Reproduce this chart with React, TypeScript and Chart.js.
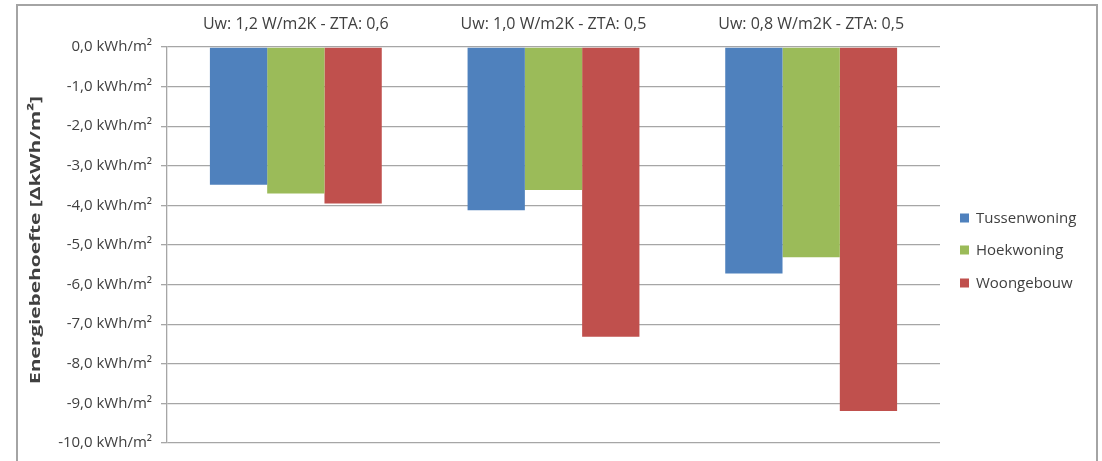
import React, { useEffect, useRef } from "react";
import { Chart, registerables } from "chart.js";

Chart.register(...registerables);

// Window variants along the top axis
const categories = [
  "Uw: 1,2 W/m2K - ZTA: 0,6",
  "Uw: 1,0 W/m2K - ZTA: 0,5",
  "Uw: 0,8 W/m2K - ZTA: 0,5",
];

// Change in energy demand per dwelling type (kWh/m²)
const tussenwoning = [-3.48, -4.12, -5.72];
const hoekwoning = [-3.7, -3.61, -5.31];
const woongebouw = [-3.95, -7.32, -9.19];

const seriesNames = ["Tussenwoning", "Hoekwoning", "Woongebouw"];
const seriesColors = ["#4f81bd", "#9bbb59", "#c0504d"];

const yMin = -10;
const yMax = 0;
const yStep = 1;
const yTitle = "Energiebehoefte [ΔkWh/m²]";

const FONT = "'Open Sans', 'Liberation Sans', sans-serif";
const TEXT = "#404040";
const GRID = "#a6a6a6";

// Legend drawn to the right of the plot area
const sideLegend = {
  id: "sideLegend",
  afterDraw(chart: Chart) {
    const ctx = chart.ctx;
    const x = chart.chartArea.right + 20;
    const ys = [218, 250, 283];
    ctx.save();
    ctx.font = `15px ${FONT}`;
    ctx.textBaseline = "middle";
    chart.data.datasets.forEach((ds: any, i: number) => {
      ctx.fillStyle = ds.backgroundColor as string;
      ctx.fillRect(x, ys[i] - 4.5, 9, 9);
      ctx.fillStyle = TEXT;
      ctx.fillText(ds.label as string, x + 16, ys[i] + 0.5);
    });
    ctx.restore();
  },
};

// Vertical axis title, stretched along its length
const axisTitle = {
  id: "axisTitle",
  afterDraw(chart: Chart) {
    const ctx = chart.ctx;
    const { top, bottom } = chart.chartArea;
    const cy = (top + bottom) / 2 - 5;
    ctx.save();
    ctx.font = `bold 15px ${FONT}`;
    const w = ctx.measureText(yTitle).width;
    const target = 288;
    ctx.translate(36, cy);
    ctx.rotate(-Math.PI / 2);
    ctx.scale(target / w, 1);
    ctx.fillStyle = TEXT;
    ctx.textAlign = "center";
    ctx.textBaseline = "middle";
    ctx.fillText(yTitle, 0, 0);
    ctx.restore();
  },
};

export default function App() {
  const canvasRef = useRef<HTMLCanvasElement | null>(null);

  useEffect(() => {
    document.body.style.margin = "0";
    document.body.style.background = "#ffffff";
    const canvas = canvasRef.current;
    if (!canvas) return;
    const series = [tussenwoning, hoekwoning, woongebouw];
    const chart = new Chart(canvas, {
      type: "bar",
      data: {
        labels: categories,
        datasets: series.map((values, i) => ({
          label: seriesNames[i],
          data: values,
          backgroundColor: seriesColors[i],
          borderWidth: 0,
          categoryPercentage: 0.667,
          barPercentage: 1,
        })),
      },
      options: {
        animation: false,
        responsive: false,
        maintainAspectRatio: false,
        devicePixelRatio: 1,
        layout: { padding: { left: 22, right: 162, top: 8, bottom: 18 } },
        plugins: {
          legend: { display: false },
          tooltip: { enabled: false },
        },
        scales: {
          x: {
            position: "top",
            grid: { display: false, drawTicks: false },
            border: { display: false },
            ticks: {
              color: TEXT,
              font: { family: FONT, size: 16 },
              padding: 13,
              maxRotation: 0,
            },
            afterFit(scale: any) {
              scale.height = 39;
            },
          },
          y: {
            min: yMin,
            max: yMax,
            grid: {
              color: GRID,
              lineWidth: 1.3,
              drawTicks: true,
              tickLength: 6,
            },
            border: { display: true, color: GRID, width: 1.3 },
            ticks: {
              stepSize: yStep,
              color: TEXT,
              font: { family: FONT, size: 15 },
              padding: 9,
              callback: (v: any) =>
                Number(v).toFixed(1).replace(".", ",") + " kWh/m²",
            },
            afterFit(scale: any) {
              scale.width = 145;
            },
          },
        },
      },
      plugins: [sideLegend, axisTitle],
    });
    return () => chart.destroy();
  }, []);

  return (
    <div style={{ position: "fixed", left: 0, top: 0, width: 1102, height: 461, overflow: "hidden", background: "#fff" }}>
      <div
        style={{
          position: "absolute",
          left: 16,
          top: 4,
          width: 1082,
          height: 500,
          border: "2px solid #a4a4a4",
          boxSizing: "border-box",
        }}
      />
      <canvas
        ref={canvasRef}
        width={1102}
        height={461}
        style={{ position: "absolute", left: 0, top: 0, width: 1102, height: 461 }}
      />
    </div>
  );
}
